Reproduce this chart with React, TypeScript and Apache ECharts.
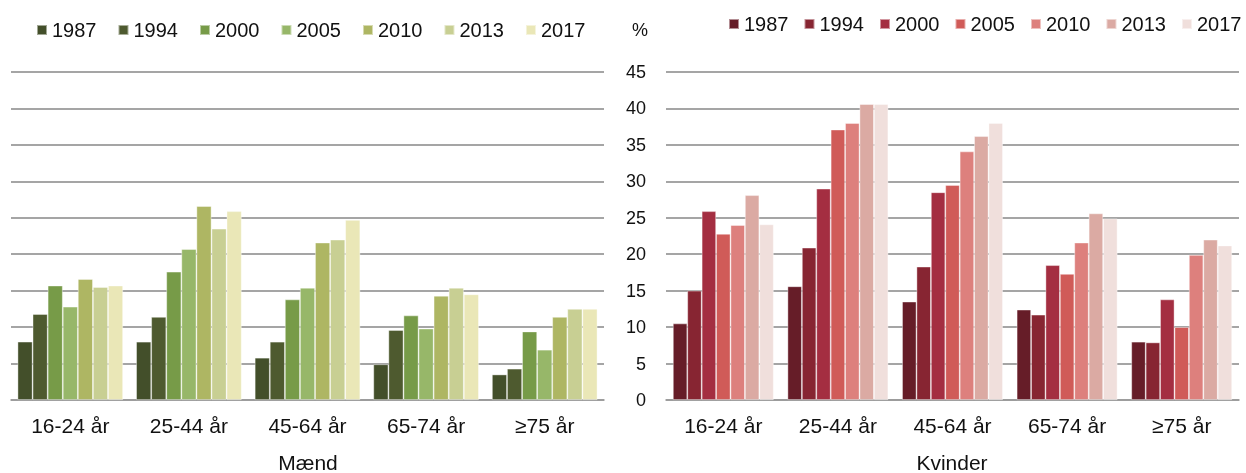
import React, { useEffect, useRef } from "react";
import * as echarts from "echarts";

const categories = ["16-24 år", "25-44 år", "45-64 år", "65-74 år", "≥75 år"];
const years = ["1987", "1994", "2000", "2005", "2010", "2013", "2017"];

// Mænd: values per year, across age groups
const maend1987 = [8.0, 8.0, 5.8, 4.9, 3.5];
const maend1994 = [11.8, 11.4, 8.0, 9.6, 4.3];
const maend2000 = [15.7, 17.6, 13.8, 11.6, 9.4];
const maend2005 = [12.8, 20.7, 15.4, 9.8, 6.9];
const maend2010 = [16.6, 26.6, 21.6, 14.3, 11.4];
const maend2013 = [15.5, 23.5, 22.0, 15.4, 12.5];
const maend2017 = [15.7, 25.9, 24.7, 14.5, 12.5];

// Kvinder
const kvinder1987 = [10.5, 15.6, 13.5, 12.4, 8.0];
const kvinder1994 = [15.0, 20.9, 18.3, 11.7, 7.9];
const kvinder2000 = [25.9, 29.0, 28.5, 18.5, 13.8];
const kvinder2005 = [22.8, 37.1, 29.5, 17.3, 10.0];
const kvinder2010 = [24.0, 38.0, 34.1, 21.6, 19.9];
const kvinder2013 = [28.1, 40.6, 36.2, 25.6, 22.0];
const kvinder2017 = [24.1, 40.6, 38.0, 24.9, 21.2];

const yTicks = [0, 5, 10, 15, 20, 25, 30, 35, 40, 45];

const maendData = [maend1987, maend1994, maend2000, maend2005, maend2010, maend2013, maend2017];
const kvinderData = [kvinder1987, kvinder1994, kvinder2000, kvinder2005, kvinder2010, kvinder2013, kvinder2017];

const greenColors = ["#434f2a", "#4e5a2f", "#779b48", "#97b769", "#aeb663", "#c8cf93", "#eae7b7"];
const redColors = ["#661d28", "#872532", "#a42e41", "#d05b58", "#dd807d", "#dbaaa3", "#f0dfdc"];

export default function App() {
  const ref = useRef<HTMLDivElement>(null);
  useEffect(() => {
    if (!ref.current) return;
    const chart = echarts.init(ref.current, undefined, { renderer: "svg" });
    const font = "'Liberation Sans', Arial, sans-serif";
    const gridLine = { lineStyle: { color: "#878787", width: 1.6 } };
    const yMax = yTicks[yTicks.length - 1];
    const yInterval = yTicks[1] - yTicks[0];

    const series: any[] = [];
    years.forEach((y, i) => {
      series.push({
        name: "M" + y,
        type: "bar",
        xAxisIndex: 0,
        yAxisIndex: 0,
        data: maendData[i],
        barGap: "0%",
        barCategoryGap: "11%",
        itemStyle: { color: greenColors[i], borderColor: "rgba(255,255,255,0.5)", borderWidth: 0.8 },
      });
    });
    years.forEach((y, i) => {
      series.push({
        name: "K" + y,
        type: "bar",
        xAxisIndex: 1,
        yAxisIndex: 1,
        data: kvinderData[i],
        barGap: "0%",
        barCategoryGap: "12%",
        itemStyle: { color: redColors[i], borderColor: "rgba(255,255,255,0.5)", borderWidth: 0.8 },
      });
    });

    const legendCommon = {
      itemWidth: 10,
      itemHeight: 10,
      icon: "rect",
      padding: 0,
      formatter: (n: string) => n.slice(1),
      textStyle: { fontFamily: font, fontSize: 20, color: "#111" },
    };

    const titleText = (text: string, x: number) => ({
      type: "text",
      x,
      y: 462,
      style: { text, fontFamily: font, fontSize: 21, fill: "#111", textAlign: "center", textVerticalAlign: "middle" },
    });

    chart.setOption({
      animation: false,
      textStyle: { fontFamily: font },
      legend: [
        {
          ...legendCommon,
          left: 36,
          top: 20,
          itemGap: 21,
          data: years.map((y) => "M" + y),
        },
        {
          ...legendCommon,
          left: 728,
          top: 14,
          itemGap: 15,
          data: years.map((y) => "K" + y),
        },
      ],
      graphic: [
        titleText("Mænd", 308),
        titleText("Kvinder", 952),
        {
          type: "text",
          x: 640,
          y: 30,
          style: { text: "%", fontFamily: font, fontSize: 18, fill: "#111", textAlign: "center", textVerticalAlign: "middle" },
        },
      ],
      grid: [
        { left: 11, right: 642, top: 72, bottom: 73 },
        { left: 666, right: 7, top: 72, bottom: 73 },
      ],
      xAxis: [0, 1].map((gi) => ({
        type: "category",
        gridIndex: gi,
        data: categories,
        axisTick: { show: false },
        axisLine: { lineStyle: { color: "#9a9a9a", width: 1.6 } },
        axisLabel: { fontFamily: font, fontSize: 21, color: "#111", margin: 15 },
      })),
      yAxis: [0, 1].map((gi) => ({
        type: "value",
        gridIndex: gi,
        min: 0,
        max: yMax,
        interval: yInterval,
        splitLine: gridLine,
        axisLine: { show: false },
        axisTick: { show: false },
        axisLabel: gi === 0 ? { show: false } : { fontFamily: font, fontSize: 18, color: "#111", margin: 20 },
      })),
      series,
    });
    return () => chart.dispose();
  }, []);
  return <div ref={ref} style={{ position: "fixed", left: 0, top: 0, width: 1246, height: 473 }} />;
}
